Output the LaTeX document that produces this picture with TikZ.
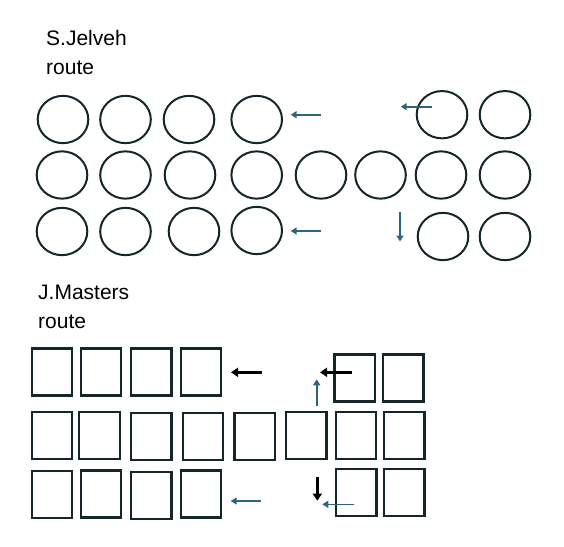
\documentclass[tikz,border=0pt]{standalone}
\usepackage{fontspec}
\setmainfont{Liberation Sans}
\usetikzlibrary{positioning,arrows}
\usetikzlibrary{arrows.meta}
\usetikzlibrary{shapes.geometric}
\definecolor{cellline}{HTML}{15262B}
\definecolor{routeteal}{HTML}{2D6580}
\begin{document}
\begin{tikzpicture}[x=1pt,y=-1pt,
    seat/.style={ellipse, draw=cellline, line width=2pt, inner sep=0pt, minimum width=50.6pt, minimum height=47.3pt},
    box/.style={rectangle, draw=cellline, line width=2.3pt, inner sep=0pt, minimum width=40.5pt, minimum height=47pt},
    title/.style={anchor=north west, inner sep=0pt, align=left, font=\fontsize{21}{29}\selectfont},
    tealarrow/.style={-{Triangle[width=7pt,length=6pt]}, line width=1.6pt, color=routeteal},
    blackarrow/.style={-{Triangle[width=9pt,length=7pt]}, line width=3pt, color=black}]

    \useasboundingbox (0,0) rectangle (564,546);

    \node[title] (jelveh) at (46,30.5) {S.Jelveh\\route};

    % circles
    \node[seat] (c11) at (63,119.5) {};
    \node[seat] (c12) at (125.5,119.5) {};
    \node[seat] (c13) at (189,119.5) {};
    \node[seat] (c14) at (256.7,119.5) {};
    \node[seat] (c17) at (442,114.7) {};
    \node[seat] (c18) at (505,114.7) {};

    \node[seat] (c21) at (62,175) {};
    \node[seat] (c22) at (125.5,175) {};
    \node[seat] (c23) at (190,175) {};
    \node[seat] (c24) at (256.7,175) {};
    \node[seat] (c25) at (321,175) {};
    \node[seat] (c26) at (380.5,175) {};
    \node[seat] (c27) at (441,175) {};
    \node[seat] (c28) at (505,175) {};

    \node[seat] (c31) at (62,231.5) {};
    \node[seat] (c32) at (125.5,231.5) {};
    \node[seat] (c33) at (194,231.5) {};
    \node[seat] (c34) at (256.7,230.5) {};
    \node[seat] (c37) at (443,236.5) {};
    \node[seat] (c38) at (505,236.5) {};

    \coordinate (a1s) at (320.7,114.7);
    \coordinate (a1e) at (290.7,114.7);
    \coordinate (a2s) at (432.3,106.7);
    \coordinate (a2e) at (400.7,106.7);
    \coordinate (a3s) at (320.7,231);
    \coordinate (a3e) at (290.7,231);
    \coordinate (a4s) at (400,212);
    \coordinate (a4e) at (400,241.5);

    \draw[tealarrow] (a1s) -- (a1e);
    \draw[tealarrow] (a2s) -- (a2e);
    \draw[tealarrow] (a3s) -- (a3e);
    \draw[tealarrow] (a4s) -- (a4e);

    \node[title] (masters) at (38,284.5) {J.Masters\\route};

    % squares
    \node[box] (s11) at (52,372) {};
    \node[box] (s12) at (101,372) {};
    \node[box] (s13) at (151.3,372) {};
    \node[box] (s14) at (201,372) {};
    \node[box] (s17) at (354.7,378) {};
    \node[box] (s18) at (403.3,378) {};

    \node[box] (s21) at (52,435.5) {};
    \node[box] (s22) at (99.5,435.5) {};
    \node[box] (s23) at (151.3,436.3) {};
    \node[box] (s24) at (203,436.3) {};
    \node[box] (s25) at (254.7,436.2) {};
    \node[box] (s26) at (306.3,435.5) {};
    \node[box] (s27) at (356,435.7) {};
    \node[box] (s28) at (404.2,435.7) {};

    \node[box] (s31) at (52,494.3) {};
    \node[box] (s32) at (101,494) {};
    \node[box] (s33) at (151.3,495.3) {};
    \node[box] (s34) at (201,494) {};
    \node[box] (s37) at (356.3,492.2) {};
    \node[box] (s38) at (404.2,492.2) {};

    \coordinate (b1s) at (261.7,372.3);
    \coordinate (b1e) at (231,372.3);
    \coordinate (b2s) at (351.7,372.3);
    \coordinate (b2e) at (320,372.3);
    \coordinate (b3s) at (316.7,406);
    \coordinate (b3e) at (316.7,379.3);
    \coordinate (b4s) at (261,501);
    \coordinate (b4e) at (230.7,501);
    \coordinate (b5s) at (317.3,476.7);
    \coordinate (b5e) at (317.3,500.7);
    \coordinate (b6s) at (354.3,504.3);
    \coordinate (b6e) at (322.3,504.3);

    \draw[blackarrow] (b1s) -- (b1e);
    \draw[blackarrow] (b2s) -- (b2e);
    \draw[tealarrow] (b3s) -- (b3e);
    \draw[tealarrow] (b4s) -- (b4e);
    \draw[blackarrow] (b5s) -- (b5e);
    \draw[tealarrow] (b6s) -- (b6e);
\end{tikzpicture}
\end{document}
